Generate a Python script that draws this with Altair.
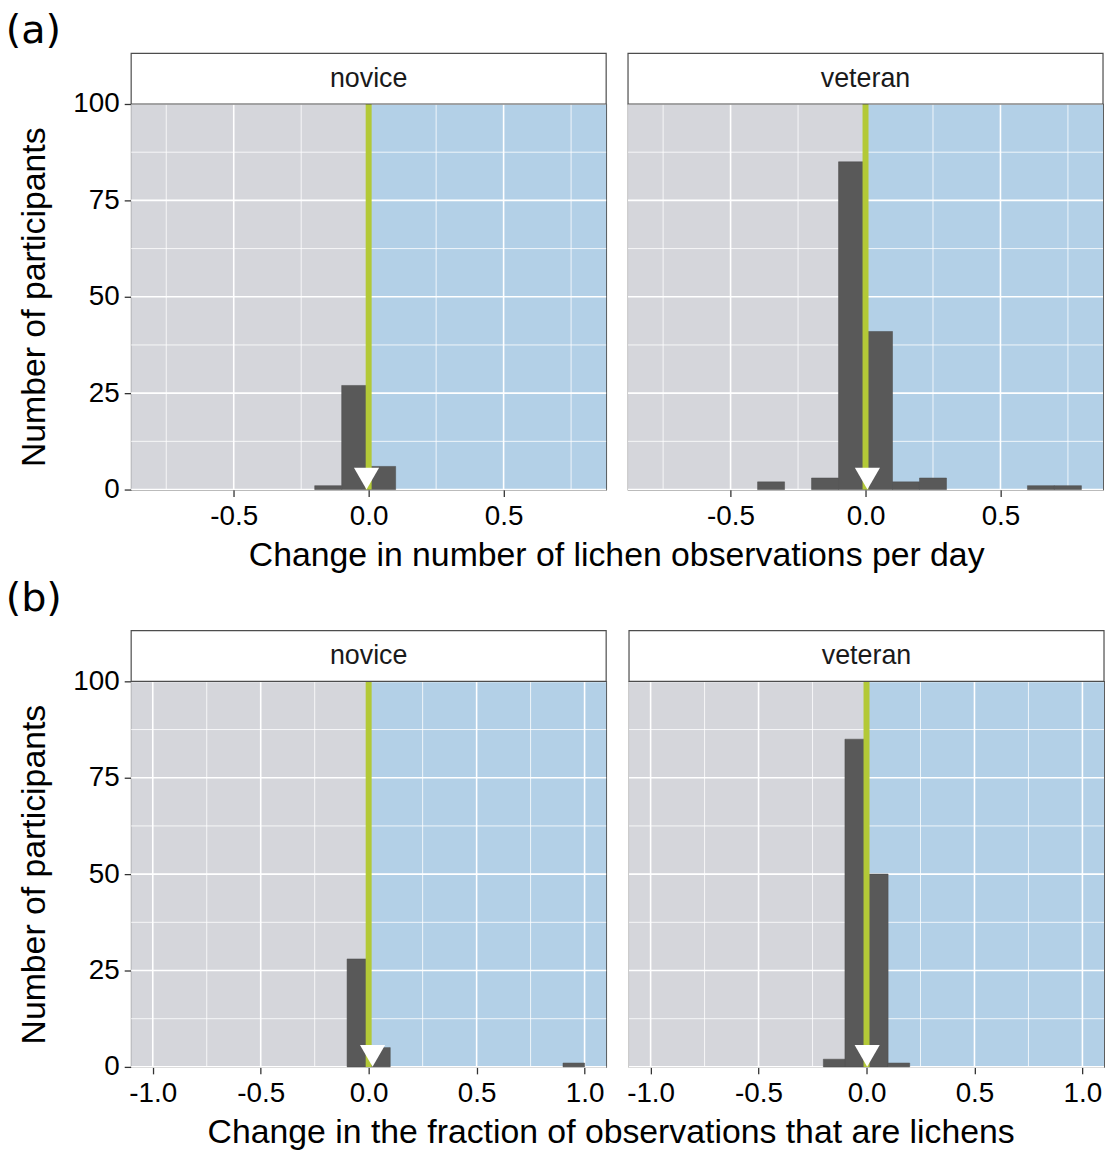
import altair as alt
import pandas as pd

# ---------------- data ----------------
panel_labels = ["novice", "veteran"]

# (a) change in number of lichen observations per day, bin width 0.1
a_nov_bin_start = [-0.2, -0.1, 0.0]
a_nov_count = [1, 27, 6]
a_vet_bin_start = [-0.4, -0.2, -0.1, 0.0, 0.1, 0.2, 0.6, 0.7]
a_vet_count = [2, 3, 85, 41, 2, 3, 1, 1]
a_bin_width = 0.1
a_means = [-0.008, 0.007]

# (b) change in fraction of observations that are lichens, bin width 0.1
b_nov_bin_start = [-0.1, 0.0, 0.9]
b_nov_count = [28, 5, 1]
b_vet_bin_start = [-0.2, -0.1, 0.0, 0.1]
b_vet_count = [2, 85, 50, 1]
b_bin_width = 0.1
b_means = [0.018, 0.003]

a_domain = [-0.88, 0.88]
b_domain = [-1.1, 1.1]
a_major = [-0.5, 0.0, 0.5]
a_minor = [-0.75, -0.25, 0.25, 0.75]
b_major = [-1.0, -0.5, 0.0, 0.5, 1.0]
b_minor = [-0.75, -0.25, 0.25, 0.75]
y_major = [0, 25, 50, 75, 100]
y_minor = [12.5, 37.5, 62.5, 87.5]

a_xtitle = "Change in number of lichen observations per day"
b_xtitle = "Change in the fraction of observations that are lichens"
y_title = "Number of participants"

# ---------------- styling ----------------
W, H = 478, 388
STRIP_H = 51
GRAY_BG = "#d5d6db"
BLUE_BG = "#b3d0e7"
BAR = "#595959"
GREEN = "#b3c937"
FONT = "Liberation Sans"
LABEL_EXPR = "replace(format(datum.value, '.1f'), '\u2212', '-')"


def panel(label, starts, counts, binw, domain, major, minor, mean, show_y,
          ytitle_pad):
    xs = alt.Scale(domain=domain, nice=False, zero=False)
    ys = alt.Scale(domain=[0, 100], nice=False)
    xaxis = alt.Axis(values=major, labelExpr=LABEL_EXPR, grid=False,
                     domain=False, ticks=True, tickSize=7, tickColor="#333333",
                     tickWidth=1.3, labelFontSize=28, labelColor="black",
                     labelPadding=6, title=None)
    if show_y:
        yaxis = alt.Axis(values=y_major, grid=False, domain=False, ticks=True,
                         tickSize=7, tickColor="#333333", tickWidth=1.3,
                         labelFontSize=28, labelColor="black", labelPadding=5,
                         title=y_title, titleFontSize=34,
                         titleFontWeight="normal", titleColor="black",
                         titlePadding=ytitle_pad)
    else:
        yaxis = None

    def X(field=None, datum=None):
        if datum is not None:
            return alt.X(datum=datum, type="quantitative", scale=xs, axis=xaxis)
        return alt.X(field, type="quantitative", scale=xs, axis=xaxis)

    def Y(field=None, datum=None):
        if datum is not None:
            return alt.Y(datum=datum, type="quantitative", scale=ys, axis=yaxis)
        return alt.Y(field, type="quantitative", scale=ys, axis=yaxis)

    one = pd.DataFrame({"label": [label]})

    bg_left = alt.Chart(one).mark_rect(color=GRAY_BG).encode(
        x=X(datum=domain[0]), x2=alt.X2(datum=0), y=alt.value(0), y2=alt.value(H))
    bg_right = alt.Chart(one).mark_rect(color=BLUE_BG).encode(
        x=X(datum=0), x2=alt.X2(datum=domain[1]), y=alt.value(0), y2=alt.value(H))

    gx = pd.DataFrame({"g": major + minor,
                       "w": [1.6] * len(major) + [0.8] * len(minor)})
    gy = pd.DataFrame({"g": y_major + y_minor,
                       "w": [1.6] * len(y_major) + [0.8] * len(y_minor)})
    grid_x = alt.Chart(gx).mark_rule(color="white").encode(
        x=X("g"), strokeWidth=alt.StrokeWidth("w:Q", scale=None))
    grid_y = alt.Chart(gy).mark_rule(color="white").encode(
        y=Y("g"), strokeWidth=alt.StrokeWidth("w:Q", scale=None))

    bars_df = pd.DataFrame({"x": starts,
                            "x2": [s + binw for s in starts],
                            "count": counts})
    bars = alt.Chart(bars_df).mark_rect(color=BAR, stroke="#4a4a4a",
                                        strokeWidth=0.5).encode(
        x=X("x"), x2="x2", y=Y("count"), y2=alt.Y2(datum=0))

    zero_line = alt.Chart(one).mark_rule(color=GREEN, strokeWidth=6).encode(
        x=X(datum=0))

    tri = alt.Chart(pd.DataFrame({"m": [mean]})).mark_point(
        shape="triangle-down", filled=True, color="white", opacity=1,
        size=640, yOffset=-11).encode(x=X("m"), y=Y(datum=0))

    strip = alt.Chart(one).mark_rect(fill="white", stroke="#4d4d4d",
                                     strokeWidth=1.2).encode(
        x=alt.value(0), x2=alt.value(W), y=alt.value(-STRIP_H), y2=alt.value(0))
    strip_txt = alt.Chart(one).mark_text(fontSize=27, color="#1a1a1a",
                                         font=FONT, baseline="middle").encode(
        x=alt.value(W / 2), y=alt.value(-STRIP_H / 2), text="label:N")

    return alt.layer(bg_left, bg_right, grid_x, grid_y, bars, zero_line, tri,
                     strip, strip_txt).properties(width=W, height=H)


def row(tag, tag_offset, xtitle, title_dx, nov, vet, binw, domain, major,
        minor, means, ytitle_pad):
    p1 = panel(panel_labels[0], nov[0], nov[1], binw, domain, major, minor,
               means[0], True, ytitle_pad)
    p2 = panel(panel_labels[1], vet[0], vet[1], binw, domain, major, minor,
               means[1], False, ytitle_pad)
    hc = alt.hconcat(p1, p2, spacing=18).properties(
        title=alt.TitleParams(xtitle, orient="bottom", anchor="middle",
                              fontSize=34, fontWeight="normal", font=FONT,
                              color="black", offset=8, dx=title_dx))
    return alt.vconcat(hc).properties(
        title=alt.TitleParams(tag, anchor="start", fontSize=40,
                              fontWeight="normal", font="DejaVu Sans",
                              color="black", dx=-12, offset=tag_offset))


row_a = row("(a)", 1, a_xtitle, 56, (a_nov_bin_start, a_nov_count),
            (a_vet_bin_start, a_vet_count), a_bin_width, a_domain,
            a_major, a_minor, a_means, 21)
row_b = row("(b)", 11, b_xtitle, 50, (b_nov_bin_start, b_nov_count),
            (b_vet_bin_start, b_vet_count), b_bin_width, b_domain,
            b_major, b_minor, b_means, 21)

chart = alt.vconcat(row_a, row_b, spacing=5).configure(
    font=FONT, background="white",
    padding={"left": 5, "top": 7, "right": 0, "bottom": 0}
).configure_view(stroke="#4d4d4d", strokeWidth=1.2)

chart.save("out.html", embed_options={"renderer": "svg", "actions": False})
